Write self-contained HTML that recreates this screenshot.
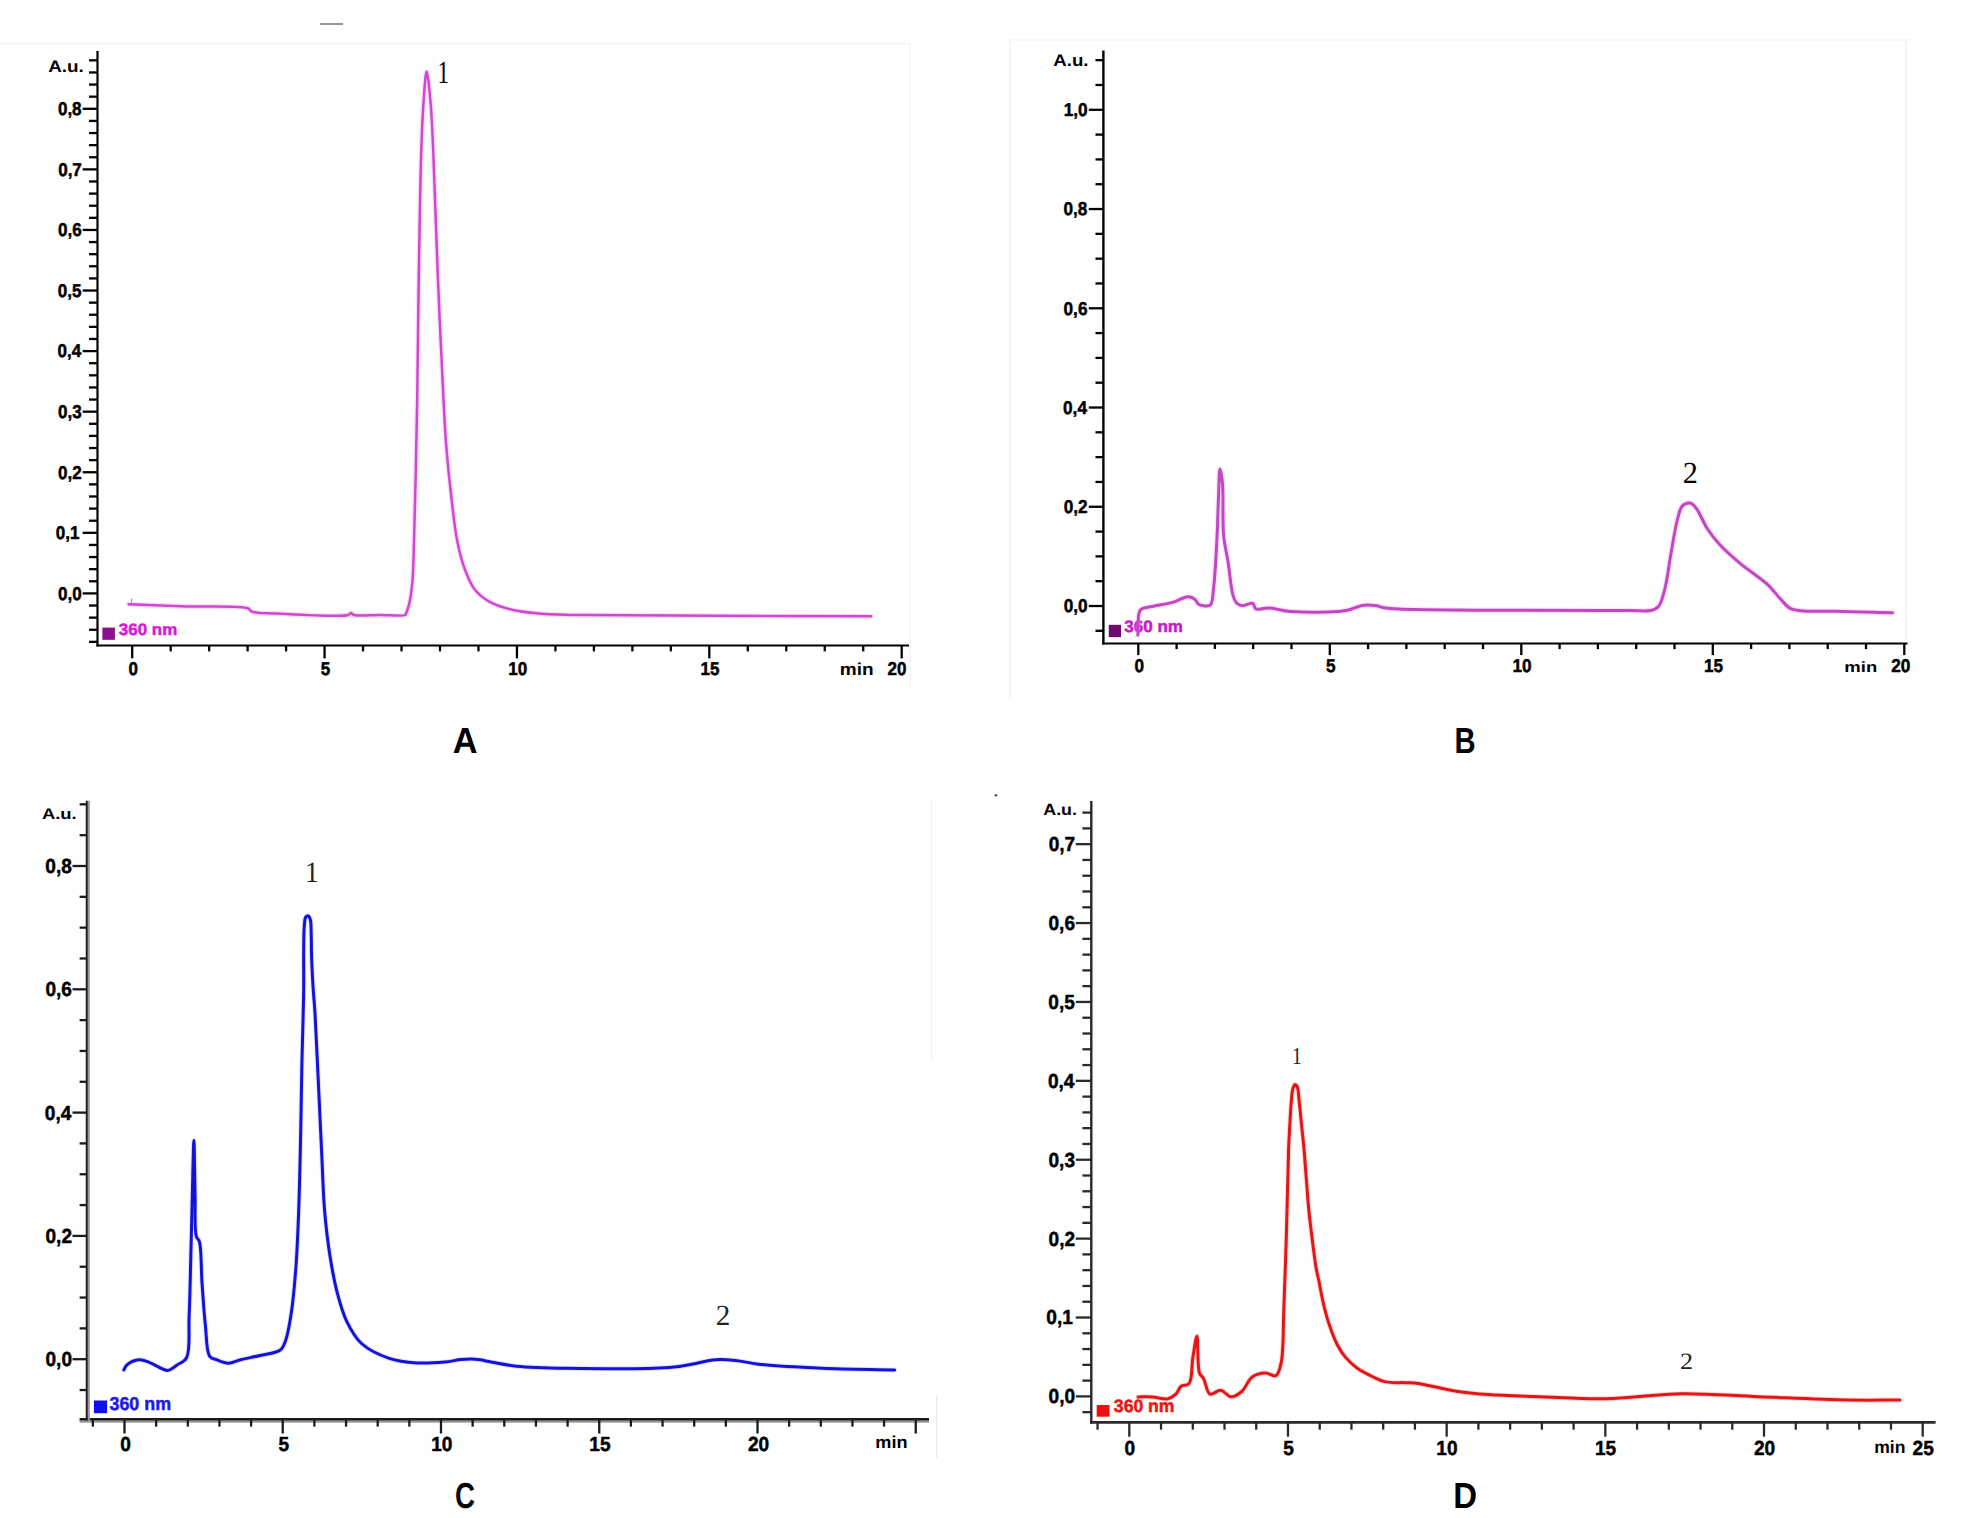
<!DOCTYPE html>
<html><head><meta charset="utf-8"><style>
html,body{margin:0;padding:0;background:#fff;width:1963px;height:1518px;overflow:hidden}
svg{display:block}
text{text-rendering:geometricPrecision}
</style></head><body>
<svg width="1963" height="1518" viewBox="0 0 1963 1518">
<rect width="1963" height="1518" fill="#fff"/>

<line x1="320" y1="24" x2="343" y2="24" stroke="#7a7a7a" stroke-width="1.6" />
<line x1="0" y1="43.5" x2="910" y2="43.5" stroke="#f3f3f3" stroke-width="1.5" />
<line x1="910" y1="43.5" x2="910" y2="690" stroke="#f5f5f5" stroke-width="1.5" />
<line x1="1010" y1="40" x2="1010" y2="700" stroke="#f3f3f3" stroke-width="1.5" />
<line x1="1010" y1="40" x2="1910" y2="40" stroke="#f5f5f5" stroke-width="1.5" />
<line x1="1906" y1="40" x2="1906" y2="640" stroke="#f2f2f2" stroke-width="1.5" />
<line x1="936.6" y1="1395" x2="936.6" y2="1458" stroke="#e8e8e8" stroke-width="1.2" />
<line x1="931.5" y1="800" x2="931.5" y2="1060" stroke="#f2f2f2" stroke-width="1.2" />
<circle cx="995.9" cy="795.2" r="1.3" fill="#555"/>
<line x1="131.6" y1="598.5" x2="131.6" y2="604" stroke="#e070e0" stroke-width="1.2" />
<line x1="97.5" y1="51" x2="97.5" y2="646.4" stroke="#000" stroke-width="2.2" />
<line x1="96.4" y1="645.4" x2="909" y2="645.4" stroke="#000" stroke-width="2" />
<line x1="89" y1="641.86" x2="97.5" y2="641.86" stroke="#000" stroke-width="2.3" />
<line x1="89" y1="629.75" x2="97.5" y2="629.75" stroke="#000" stroke-width="2.3" />
<line x1="89" y1="617.63" x2="97.5" y2="617.63" stroke="#000" stroke-width="2.3" />
<line x1="89" y1="605.51" x2="97.5" y2="605.51" stroke="#000" stroke-width="2.3" />
<line x1="82.7" y1="593.4" x2="97.5" y2="593.4" stroke="#000" stroke-width="2.3" />
<text transform="translate(58.08,599.76) scale(0.9200,1)" x="0" y="0" font-family='"Liberation Sans", sans-serif' font-size="18.500" font-weight="bold" fill="#000" stroke="#000" stroke-width="0.49" stroke-linejoin="round">0,0</text>
<line x1="89" y1="581.28" x2="97.5" y2="581.28" stroke="#000" stroke-width="2.3" />
<line x1="89" y1="569.17" x2="97.5" y2="569.17" stroke="#000" stroke-width="2.3" />
<line x1="89" y1="557.05" x2="97.5" y2="557.05" stroke="#000" stroke-width="2.3" />
<line x1="89" y1="544.94" x2="97.5" y2="544.94" stroke="#000" stroke-width="2.3" />
<line x1="82.7" y1="532.82" x2="97.5" y2="532.82" stroke="#000" stroke-width="2.3" />
<text transform="translate(55.87,539.18) scale(0.9200,1)" x="0" y="0" font-family='"Liberation Sans", sans-serif' font-size="18.500" font-weight="bold" fill="#000" stroke="#000" stroke-width="0.49" stroke-linejoin="round">0,1</text>
<line x1="89" y1="520.71" x2="97.5" y2="520.71" stroke="#000" stroke-width="2.3" />
<line x1="89" y1="508.59" x2="97.5" y2="508.59" stroke="#000" stroke-width="2.3" />
<line x1="89" y1="496.48" x2="97.5" y2="496.48" stroke="#000" stroke-width="2.3" />
<line x1="89" y1="484.36" x2="97.5" y2="484.36" stroke="#000" stroke-width="2.3" />
<line x1="82.7" y1="472.25" x2="97.5" y2="472.25" stroke="#000" stroke-width="2.3" />
<text transform="translate(58.08,478.61) scale(0.9200,1)" x="0" y="0" font-family='"Liberation Sans", sans-serif' font-size="18.500" font-weight="bold" fill="#000" stroke="#000" stroke-width="0.49" stroke-linejoin="round">0,2</text>
<line x1="89" y1="460.13" x2="97.5" y2="460.13" stroke="#000" stroke-width="2.3" />
<line x1="89" y1="448.02" x2="97.5" y2="448.02" stroke="#000" stroke-width="2.3" />
<line x1="89" y1="435.9" x2="97.5" y2="435.9" stroke="#000" stroke-width="2.3" />
<line x1="89" y1="423.79" x2="97.5" y2="423.79" stroke="#000" stroke-width="2.3" />
<line x1="82.7" y1="411.67" x2="97.5" y2="411.67" stroke="#000" stroke-width="2.3" />
<text transform="translate(58,418.03) scale(0.9200,1)" x="0" y="0" font-family='"Liberation Sans", sans-serif' font-size="18.500" font-weight="bold" fill="#000" stroke="#000" stroke-width="0.49" stroke-linejoin="round">0,3</text>
<line x1="89" y1="399.56" x2="97.5" y2="399.56" stroke="#000" stroke-width="2.3" />
<line x1="89" y1="387.44" x2="97.5" y2="387.44" stroke="#000" stroke-width="2.3" />
<line x1="89" y1="375.33" x2="97.5" y2="375.33" stroke="#000" stroke-width="2.3" />
<line x1="89" y1="363.21" x2="97.5" y2="363.21" stroke="#000" stroke-width="2.3" />
<line x1="82.7" y1="351.1" x2="97.5" y2="351.1" stroke="#000" stroke-width="2.3" />
<text transform="translate(57.48,357.46) scale(0.9200,1)" x="0" y="0" font-family='"Liberation Sans", sans-serif' font-size="18.500" font-weight="bold" fill="#000" stroke="#000" stroke-width="0.49" stroke-linejoin="round">0,4</text>
<line x1="89" y1="338.98" x2="97.5" y2="338.98" stroke="#000" stroke-width="2.3" />
<line x1="89" y1="326.87" x2="97.5" y2="326.87" stroke="#000" stroke-width="2.3" />
<line x1="89" y1="314.75" x2="97.5" y2="314.75" stroke="#000" stroke-width="2.3" />
<line x1="89" y1="302.64" x2="97.5" y2="302.64" stroke="#000" stroke-width="2.3" />
<line x1="82.7" y1="290.52" x2="97.5" y2="290.52" stroke="#000" stroke-width="2.3" />
<text transform="translate(57.87,296.88) scale(0.9200,1)" x="0" y="0" font-family='"Liberation Sans", sans-serif' font-size="18.500" font-weight="bold" fill="#000" stroke="#000" stroke-width="0.49" stroke-linejoin="round">0,5</text>
<line x1="89" y1="278.41" x2="97.5" y2="278.41" stroke="#000" stroke-width="2.3" />
<line x1="89" y1="266.29" x2="97.5" y2="266.29" stroke="#000" stroke-width="2.3" />
<line x1="89" y1="254.18" x2="97.5" y2="254.18" stroke="#000" stroke-width="2.3" />
<line x1="89" y1="242.06" x2="97.5" y2="242.06" stroke="#000" stroke-width="2.3" />
<line x1="82.7" y1="229.95" x2="97.5" y2="229.95" stroke="#000" stroke-width="2.3" />
<text transform="translate(58,236.31) scale(0.9200,1)" x="0" y="0" font-family='"Liberation Sans", sans-serif' font-size="18.500" font-weight="bold" fill="#000" stroke="#000" stroke-width="0.49" stroke-linejoin="round">0,6</text>
<line x1="89" y1="217.83" x2="97.5" y2="217.83" stroke="#000" stroke-width="2.3" />
<line x1="89" y1="205.72" x2="97.5" y2="205.72" stroke="#000" stroke-width="2.3" />
<line x1="89" y1="193.6" x2="97.5" y2="193.6" stroke="#000" stroke-width="2.3" />
<line x1="89" y1="181.49" x2="97.5" y2="181.49" stroke="#000" stroke-width="2.3" />
<line x1="82.7" y1="169.38" x2="97.5" y2="169.38" stroke="#000" stroke-width="2.3" />
<text transform="translate(58.17,175.73) scale(0.9200,1)" x="0" y="0" font-family='"Liberation Sans", sans-serif' font-size="18.500" font-weight="bold" fill="#000" stroke="#000" stroke-width="0.49" stroke-linejoin="round">0,7</text>
<line x1="89" y1="157.26" x2="97.5" y2="157.26" stroke="#000" stroke-width="2.3" />
<line x1="89" y1="145.14" x2="97.5" y2="145.14" stroke="#000" stroke-width="2.3" />
<line x1="89" y1="133.03" x2="97.5" y2="133.03" stroke="#000" stroke-width="2.3" />
<line x1="89" y1="120.91" x2="97.5" y2="120.91" stroke="#000" stroke-width="2.3" />
<line x1="82.7" y1="108.8" x2="97.5" y2="108.8" stroke="#000" stroke-width="2.3" />
<text transform="translate(57.91,115.16) scale(0.9200,1)" x="0" y="0" font-family='"Liberation Sans", sans-serif' font-size="18.500" font-weight="bold" fill="#000" stroke="#000" stroke-width="0.49" stroke-linejoin="round">0,8</text>
<line x1="89" y1="96.68" x2="97.5" y2="96.68" stroke="#000" stroke-width="2.3" />
<line x1="89" y1="84.57" x2="97.5" y2="84.57" stroke="#000" stroke-width="2.3" />
<line x1="89" y1="72.46" x2="97.5" y2="72.46" stroke="#000" stroke-width="2.3" />
<line x1="89" y1="60.34" x2="97.5" y2="60.34" stroke="#000" stroke-width="2.3" />
<line x1="132.2" y1="645.4" x2="132.2" y2="658.4" stroke="#000" stroke-width="2.3" />
<text transform="translate(128.48,675.4) scale(0.9200,1)" x="0" y="0" font-family='"Liberation Sans", sans-serif' font-size="18.500" font-weight="bold" fill="#000" stroke="#000" stroke-width="0.49" stroke-linejoin="round">0</text>
<line x1="170.67" y1="645.4" x2="170.67" y2="651.4" stroke="#000" stroke-width="2.3" />
<line x1="209.15" y1="645.4" x2="209.15" y2="651.4" stroke="#000" stroke-width="2.3" />
<line x1="247.62" y1="645.4" x2="247.62" y2="651.4" stroke="#000" stroke-width="2.3" />
<line x1="286.1" y1="645.4" x2="286.1" y2="651.4" stroke="#000" stroke-width="2.3" />
<line x1="324.57" y1="645.4" x2="324.57" y2="658.4" stroke="#000" stroke-width="2.3" />
<text transform="translate(320.81,675.4) scale(0.9200,1)" x="0" y="0" font-family='"Liberation Sans", sans-serif' font-size="18.500" font-weight="bold" fill="#000" stroke="#000" stroke-width="0.49" stroke-linejoin="round">5</text>
<line x1="363.05" y1="645.4" x2="363.05" y2="651.4" stroke="#000" stroke-width="2.3" />
<line x1="401.52" y1="645.4" x2="401.52" y2="651.4" stroke="#000" stroke-width="2.3" />
<line x1="440" y1="645.4" x2="440" y2="651.4" stroke="#000" stroke-width="2.3" />
<line x1="478.48" y1="645.4" x2="478.48" y2="651.4" stroke="#000" stroke-width="2.3" />
<line x1="516.95" y1="645.4" x2="516.95" y2="658.4" stroke="#000" stroke-width="2.3" />
<text transform="translate(508.29,675.4) scale(0.9200,1)" x="0" y="0" font-family='"Liberation Sans", sans-serif' font-size="18.500" font-weight="bold" fill="#000" stroke="#000" stroke-width="0.49" stroke-linejoin="round">10</text>
<line x1="555.42" y1="645.4" x2="555.42" y2="651.4" stroke="#000" stroke-width="2.3" />
<line x1="593.9" y1="645.4" x2="593.9" y2="651.4" stroke="#000" stroke-width="2.3" />
<line x1="632.38" y1="645.4" x2="632.38" y2="651.4" stroke="#000" stroke-width="2.3" />
<line x1="670.85" y1="645.4" x2="670.85" y2="651.4" stroke="#000" stroke-width="2.3" />
<line x1="709.33" y1="645.4" x2="709.33" y2="658.4" stroke="#000" stroke-width="2.3" />
<text transform="translate(700.56,675.4) scale(0.9200,1)" x="0" y="0" font-family='"Liberation Sans", sans-serif' font-size="18.500" font-weight="bold" fill="#000" stroke="#000" stroke-width="0.49" stroke-linejoin="round">15</text>
<line x1="747.8" y1="645.4" x2="747.8" y2="651.4" stroke="#000" stroke-width="2.3" />
<line x1="786.28" y1="645.4" x2="786.28" y2="651.4" stroke="#000" stroke-width="2.3" />
<line x1="824.75" y1="645.4" x2="824.75" y2="651.4" stroke="#000" stroke-width="2.3" />
<line x1="863.22" y1="645.4" x2="863.22" y2="651.4" stroke="#000" stroke-width="2.3" />
<line x1="901.7" y1="645.4" x2="901.7" y2="658.4" stroke="#000" stroke-width="2.3" />
<text transform="translate(887.6,675.4) scale(0.9200,1)" x="0" y="0" font-family='"Liberation Sans", sans-serif' font-size="18.500" font-weight="bold" fill="#000" stroke="#000" stroke-width="0.49" stroke-linejoin="round">20</text>
<text transform="translate(48.13,71.93) scale(1.1356,1)" x="0" y="0" font-family='"Liberation Sans", sans-serif' font-size="16.631" font-weight="bold" fill="#000">A.u.</text>
<text transform="translate(839.86,674.5) scale(1.1021,1)" x="0" y="0" font-family='"Liberation Sans", sans-serif' font-size="17.241" font-weight="bold" fill="#000">min</text>
<rect x="102.4" y="627.6" width="12.5" height="12.2" fill="#8b108b"/>
<text transform="translate(118.87,635.24) scale(1.0287,1)" x="0" y="0" font-family='"Liberation Sans", sans-serif' font-size="16.479" font-weight="bold" fill="#d818d8" stroke="#d818d8" stroke-width="0.49" stroke-linejoin="round">360 nm</text>
<path d="M128.6,604.3 C148.07,605 167.29,605.71 187,606.4 C207.21,607.11 241.33,605.35 248.4,608.5 C250.21,609.31 249.57,610.63 251.2,611.4 C255.33,613.35 266.25,612.95 277,613.5 C294.83,614.41 340.44,617.4 348.2,615 C349.91,614.47 350.05,613.02 351,613 C351.98,612.98 352.4,614.51 354,615 C358.31,616.3 371.39,615 380,615 C388.49,615 402.74,616.58 405.3,615 C405.98,614.58 405.78,614.17 406.1,613.4 C406.85,611.59 408.3,607.84 409.2,604 C410.56,598.21 411.62,590.28 412.4,581.8 C413.44,570.54 413.52,557.01 414,542.3 C414.61,523.68 415.09,501.27 415.6,479 C416.17,454.12 416.72,429.34 417.2,400 C417.81,363.09 418.12,316.67 418.8,275 C419.48,233.33 420.24,181.67 421.3,150 C421.95,130.57 422.48,117.08 423.5,103 C424.34,91.47 425.42,71.62 426.6,71.6 C427.78,71.58 429.55,91.46 430.6,103 C431.88,117.07 432.31,130.57 433.2,150 C434.66,181.67 436.08,233.34 437.8,275 C439.52,316.67 441.8,368.25 443.5,400 C444.54,419.56 445.14,431.6 446.4,447.4 C447.67,463.24 449.25,479.09 451.1,494.9 C452.95,510.72 454.69,528.58 457.5,542.3 C459.71,553.09 462.16,562.41 465.4,570.8 C468.14,577.89 470.61,584.4 474.9,589.7 C479.09,594.89 484.56,599.05 490.7,602.4 C497.52,606.12 506.41,608.46 514.4,610.3 C522.21,612.1 529.06,612.64 538.1,613.4 C550.07,614.41 559.74,614.57 580,615 C633.38,616.13 774.13,615.8 871.2,616.2" fill="none" stroke="#ff88ff" stroke-width="5" stroke-opacity="0.3" stroke-linejoin="round" stroke-linecap="round"/>
<path d="M128.6,604.3 C148.07,605 167.29,605.71 187,606.4 C207.21,607.11 241.33,605.35 248.4,608.5 C250.21,609.31 249.57,610.63 251.2,611.4 C255.33,613.35 266.25,612.95 277,613.5 C294.83,614.41 340.44,617.4 348.2,615 C349.91,614.47 350.05,613.02 351,613 C351.98,612.98 352.4,614.51 354,615 C358.31,616.3 371.39,615 380,615 C388.49,615 402.74,616.58 405.3,615 C405.98,614.58 405.78,614.17 406.1,613.4 C406.85,611.59 408.3,607.84 409.2,604 C410.56,598.21 411.62,590.28 412.4,581.8 C413.44,570.54 413.52,557.01 414,542.3 C414.61,523.68 415.09,501.27 415.6,479 C416.17,454.12 416.72,429.34 417.2,400 C417.81,363.09 418.12,316.67 418.8,275 C419.48,233.33 420.24,181.67 421.3,150 C421.95,130.57 422.48,117.08 423.5,103 C424.34,91.47 425.42,71.62 426.6,71.6 C427.78,71.58 429.55,91.46 430.6,103 C431.88,117.07 432.31,130.57 433.2,150 C434.66,181.67 436.08,233.34 437.8,275 C439.52,316.67 441.8,368.25 443.5,400 C444.54,419.56 445.14,431.6 446.4,447.4 C447.67,463.24 449.25,479.09 451.1,494.9 C452.95,510.72 454.69,528.58 457.5,542.3 C459.71,553.09 462.16,562.41 465.4,570.8 C468.14,577.89 470.61,584.4 474.9,589.7 C479.09,594.89 484.56,599.05 490.7,602.4 C497.52,606.12 506.41,608.46 514.4,610.3 C522.21,612.1 529.06,612.64 538.1,613.4 C550.07,614.41 559.74,614.57 580,615 C633.38,616.13 774.13,615.8 871.2,616.2" fill="none" stroke="#d048d0" stroke-width="2.5" stroke-linejoin="round" stroke-linecap="round"/>
<text transform="translate(437.59,82.5) scale(0.7154,1)" x="0" y="0" font-family='"Liberation Serif", serif' font-size="32.121" font-weight="normal" fill="#000">1</text>
<text transform="translate(452.84,753.3) scale(0.9484,1)" x="0" y="0" font-family='"Liberation Sans", sans-serif' font-size="36.218" font-weight="bold" fill="#000">A</text>
<line x1="1103.4" y1="50.5" x2="1103.4" y2="644.6" stroke="#000" stroke-width="2.4" />
<line x1="1102.2" y1="643.5" x2="1907.5" y2="643.5" stroke="#000" stroke-width="2.2" />
<line x1="1095.5" y1="630.81" x2="1103.4" y2="630.81" stroke="#000" stroke-width="2.3" />
<line x1="1088.8" y1="606" x2="1103.4" y2="606" stroke="#000" stroke-width="2.3" />
<text transform="translate(1063.63,612.36) scale(0.9300,1)" x="0" y="0" font-family='"Liberation Sans", sans-serif' font-size="18.500" font-weight="bold" fill="#000" stroke="#000" stroke-width="0.48" stroke-linejoin="round">0,0</text>
<line x1="1095.5" y1="581.19" x2="1103.4" y2="581.19" stroke="#000" stroke-width="2.3" />
<line x1="1095.5" y1="556.38" x2="1103.4" y2="556.38" stroke="#000" stroke-width="2.3" />
<line x1="1095.5" y1="531.57" x2="1103.4" y2="531.57" stroke="#000" stroke-width="2.3" />
<line x1="1088.8" y1="506.76" x2="1103.4" y2="506.76" stroke="#000" stroke-width="2.3" />
<text transform="translate(1063.63,513.12) scale(0.9300,1)" x="0" y="0" font-family='"Liberation Sans", sans-serif' font-size="18.500" font-weight="bold" fill="#000" stroke="#000" stroke-width="0.48" stroke-linejoin="round">0,2</text>
<line x1="1095.5" y1="481.95" x2="1103.4" y2="481.95" stroke="#000" stroke-width="2.3" />
<line x1="1095.5" y1="457.14" x2="1103.4" y2="457.14" stroke="#000" stroke-width="2.3" />
<line x1="1095.5" y1="432.33" x2="1103.4" y2="432.33" stroke="#000" stroke-width="2.3" />
<line x1="1088.8" y1="407.52" x2="1103.4" y2="407.52" stroke="#000" stroke-width="2.3" />
<text transform="translate(1063.03,413.88) scale(0.9300,1)" x="0" y="0" font-family='"Liberation Sans", sans-serif' font-size="18.500" font-weight="bold" fill="#000" stroke="#000" stroke-width="0.48" stroke-linejoin="round">0,4</text>
<line x1="1095.5" y1="382.71" x2="1103.4" y2="382.71" stroke="#000" stroke-width="2.3" />
<line x1="1095.5" y1="357.9" x2="1103.4" y2="357.9" stroke="#000" stroke-width="2.3" />
<line x1="1095.5" y1="333.09" x2="1103.4" y2="333.09" stroke="#000" stroke-width="2.3" />
<line x1="1088.8" y1="308.28" x2="1103.4" y2="308.28" stroke="#000" stroke-width="2.3" />
<text transform="translate(1063.54,314.64) scale(0.9300,1)" x="0" y="0" font-family='"Liberation Sans", sans-serif' font-size="18.500" font-weight="bold" fill="#000" stroke="#000" stroke-width="0.48" stroke-linejoin="round">0,6</text>
<line x1="1095.5" y1="283.47" x2="1103.4" y2="283.47" stroke="#000" stroke-width="2.3" />
<line x1="1095.5" y1="258.66" x2="1103.4" y2="258.66" stroke="#000" stroke-width="2.3" />
<line x1="1095.5" y1="233.85" x2="1103.4" y2="233.85" stroke="#000" stroke-width="2.3" />
<line x1="1088.8" y1="209.04" x2="1103.4" y2="209.04" stroke="#000" stroke-width="2.3" />
<text transform="translate(1063.46,215.4) scale(0.9300,1)" x="0" y="0" font-family='"Liberation Sans", sans-serif' font-size="18.500" font-weight="bold" fill="#000" stroke="#000" stroke-width="0.48" stroke-linejoin="round">0,8</text>
<line x1="1095.5" y1="184.23" x2="1103.4" y2="184.23" stroke="#000" stroke-width="2.3" />
<line x1="1095.5" y1="159.42" x2="1103.4" y2="159.42" stroke="#000" stroke-width="2.3" />
<line x1="1095.5" y1="134.61" x2="1103.4" y2="134.61" stroke="#000" stroke-width="2.3" />
<line x1="1088.8" y1="109.8" x2="1103.4" y2="109.8" stroke="#000" stroke-width="2.3" />
<text transform="translate(1063.63,116.16) scale(0.9300,1)" x="0" y="0" font-family='"Liberation Sans", sans-serif' font-size="18.500" font-weight="bold" fill="#000" stroke="#000" stroke-width="0.48" stroke-linejoin="round">1,0</text>
<line x1="1095.5" y1="84.99" x2="1103.4" y2="84.99" stroke="#000" stroke-width="2.3" />
<line x1="1095.5" y1="60.18" x2="1103.4" y2="60.18" stroke="#000" stroke-width="2.3" />
<line x1="1138.3" y1="643.5" x2="1138.3" y2="655.1" stroke="#000" stroke-width="2.3" />
<text transform="translate(1134.53,671.9) scale(0.9300,1)" x="0" y="0" font-family='"Liberation Sans", sans-serif' font-size="18.500" font-weight="bold" fill="#000" stroke="#000" stroke-width="0.48" stroke-linejoin="round">0</text>
<line x1="1176.6" y1="643.5" x2="1176.6" y2="649.1" stroke="#000" stroke-width="2.3" />
<line x1="1214.9" y1="643.5" x2="1214.9" y2="649.1" stroke="#000" stroke-width="2.3" />
<line x1="1253.2" y1="643.5" x2="1253.2" y2="649.1" stroke="#000" stroke-width="2.3" />
<line x1="1291.5" y1="643.5" x2="1291.5" y2="649.1" stroke="#000" stroke-width="2.3" />
<line x1="1329.8" y1="643.5" x2="1329.8" y2="655.1" stroke="#000" stroke-width="2.3" />
<text transform="translate(1325.98,671.9) scale(0.9300,1)" x="0" y="0" font-family='"Liberation Sans", sans-serif' font-size="18.500" font-weight="bold" fill="#000" stroke="#000" stroke-width="0.48" stroke-linejoin="round">5</text>
<line x1="1368.1" y1="643.5" x2="1368.1" y2="649.1" stroke="#000" stroke-width="2.3" />
<line x1="1406.4" y1="643.5" x2="1406.4" y2="649.1" stroke="#000" stroke-width="2.3" />
<line x1="1444.7" y1="643.5" x2="1444.7" y2="649.1" stroke="#000" stroke-width="2.3" />
<line x1="1483" y1="643.5" x2="1483" y2="649.1" stroke="#000" stroke-width="2.3" />
<line x1="1521.3" y1="643.5" x2="1521.3" y2="655.1" stroke="#000" stroke-width="2.3" />
<text transform="translate(1512.54,671.9) scale(0.9300,1)" x="0" y="0" font-family='"Liberation Sans", sans-serif' font-size="18.500" font-weight="bold" fill="#000" stroke="#000" stroke-width="0.48" stroke-linejoin="round">10</text>
<line x1="1559.6" y1="643.5" x2="1559.6" y2="649.1" stroke="#000" stroke-width="2.3" />
<line x1="1597.9" y1="643.5" x2="1597.9" y2="649.1" stroke="#000" stroke-width="2.3" />
<line x1="1636.2" y1="643.5" x2="1636.2" y2="649.1" stroke="#000" stroke-width="2.3" />
<line x1="1674.5" y1="643.5" x2="1674.5" y2="649.1" stroke="#000" stroke-width="2.3" />
<line x1="1712.8" y1="643.5" x2="1712.8" y2="655.1" stroke="#000" stroke-width="2.3" />
<text transform="translate(1703.93,671.9) scale(0.9300,1)" x="0" y="0" font-family='"Liberation Sans", sans-serif' font-size="18.500" font-weight="bold" fill="#000" stroke="#000" stroke-width="0.48" stroke-linejoin="round">15</text>
<line x1="1751.1" y1="643.5" x2="1751.1" y2="649.1" stroke="#000" stroke-width="2.3" />
<line x1="1789.4" y1="643.5" x2="1789.4" y2="649.1" stroke="#000" stroke-width="2.3" />
<line x1="1827.7" y1="643.5" x2="1827.7" y2="649.1" stroke="#000" stroke-width="2.3" />
<line x1="1866" y1="643.5" x2="1866" y2="649.1" stroke="#000" stroke-width="2.3" />
<line x1="1904.3" y1="643.5" x2="1904.3" y2="655.1" stroke="#000" stroke-width="2.3" />
<text transform="translate(1891.19,671.9) scale(0.9300,1)" x="0" y="0" font-family='"Liberation Sans", sans-serif' font-size="18.500" font-weight="bold" fill="#000" stroke="#000" stroke-width="0.48" stroke-linejoin="round">20</text>
<text transform="translate(1053.23,66.23) scale(1.1065,1)" x="0" y="0" font-family='"Liberation Sans", sans-serif' font-size="16.918" font-weight="bold" fill="#000">A.u.</text>
<text transform="translate(1844.3,671.6) scale(1.2431,1)" x="0" y="0" font-family='"Liberation Sans", sans-serif' font-size="14.897" font-weight="bold" fill="#000">min</text>
<rect x="1108.8" y="624.8" width="12.2" height="12.3" fill="#700a70"/>
<text transform="translate(1124.37,632.04) scale(1.0218,1)" x="0" y="0" font-family='"Liberation Sans", sans-serif' font-size="16.620" font-weight="bold" fill="#c818c8" stroke="#c818c8" stroke-width="0.49" stroke-linejoin="round">360 nm</text>
<path d="M1137.8,635 C1138.67,626.67 1136.76,614.41 1140.4,610 C1142.93,606.94 1147.56,607.61 1152,606.5 C1157.84,605.04 1166.93,604.07 1172.5,602.4 C1176.52,601.19 1179.61,599.26 1182.6,598.3 C1184.89,597.56 1186.77,596.63 1188.8,596.8 C1190.87,596.97 1193.2,598.11 1194.9,599.4 C1196.59,600.68 1196.99,603.47 1199,604.5 C1201.63,605.85 1207.74,607 1210.2,605.1 C1213.18,602.79 1212.56,595.8 1213.5,588.9 C1215.12,576.96 1216.04,555.65 1216.9,539.6 C1217.72,524.32 1218.01,507.68 1218.6,494.8 C1219.05,485.02 1219.17,469.05 1220,469 C1220.63,468.96 1221.89,477.22 1222.5,483.6 C1223.64,495.5 1222.25,520.74 1223.6,535.1 C1224.58,545.55 1226.6,552.53 1228.1,562 C1229.77,572.57 1230.84,588.43 1233.1,595.6 C1234.25,599.23 1235.19,601.72 1237,603.4 C1238.51,604.8 1240.43,605.52 1242.6,605.7 C1245.44,605.94 1250.44,602.42 1252.7,603.4 C1254.49,604.17 1254.11,608.03 1256,609 C1258.62,610.35 1263.66,607.74 1268.4,607.9 C1274.82,608.12 1281.78,610.85 1291,611.5 C1305.29,612.5 1333.18,612.58 1346,610.5 C1353.14,609.34 1356.99,606.13 1362.3,605.4 C1367.14,604.73 1372.78,605.27 1376.5,605.8 C1378.98,606.16 1380.05,606.94 1382.6,607.4 C1386.72,608.14 1390.35,608.55 1399,609 C1431.38,610.68 1594.59,610.39 1630,610.5 C1640.58,610.53 1645.45,611.73 1650.6,610.5 C1653.97,609.69 1656.35,608.93 1658.5,606.5 C1661.61,602.99 1662.95,596.05 1664.8,589.1 C1667.41,579.29 1668.95,564.62 1671.1,552.8 C1673.16,541.48 1675.08,528.15 1677.4,519.6 C1678.91,514.03 1679.57,508.82 1682.2,506.1 C1684.22,504.01 1687.73,502.59 1690.1,503 C1692.46,503.41 1694.26,505.82 1696.4,508.5 C1699.98,512.97 1703.38,522.76 1707.5,529 C1711.34,534.82 1715.14,539.57 1720.1,544.9 C1725.92,551.16 1733.23,557.53 1740.7,563.8 C1748.91,570.7 1760.45,577.85 1767.5,584.4 C1772.79,589.31 1776.01,594.33 1780.2,598.6 C1783.93,602.4 1785.79,606.56 1791.3,608.9 C1800.73,612.9 1819.83,610.67 1835.5,611.3 C1853.29,612.02 1873.5,612.3 1892.5,612.8" fill="none" stroke="#ff99ff" stroke-width="5.5" stroke-opacity="0.3" stroke-linejoin="round" stroke-linecap="round"/>
<path d="M1137.8,635 C1138.67,626.67 1136.76,614.41 1140.4,610 C1142.93,606.94 1147.56,607.61 1152,606.5 C1157.84,605.04 1166.93,604.07 1172.5,602.4 C1176.52,601.19 1179.61,599.26 1182.6,598.3 C1184.89,597.56 1186.77,596.63 1188.8,596.8 C1190.87,596.97 1193.2,598.11 1194.9,599.4 C1196.59,600.68 1196.99,603.47 1199,604.5 C1201.63,605.85 1207.74,607 1210.2,605.1 C1213.18,602.79 1212.56,595.8 1213.5,588.9 C1215.12,576.96 1216.04,555.65 1216.9,539.6 C1217.72,524.32 1218.01,507.68 1218.6,494.8 C1219.05,485.02 1219.17,469.05 1220,469 C1220.63,468.96 1221.89,477.22 1222.5,483.6 C1223.64,495.5 1222.25,520.74 1223.6,535.1 C1224.58,545.55 1226.6,552.53 1228.1,562 C1229.77,572.57 1230.84,588.43 1233.1,595.6 C1234.25,599.23 1235.19,601.72 1237,603.4 C1238.51,604.8 1240.43,605.52 1242.6,605.7 C1245.44,605.94 1250.44,602.42 1252.7,603.4 C1254.49,604.17 1254.11,608.03 1256,609 C1258.62,610.35 1263.66,607.74 1268.4,607.9 C1274.82,608.12 1281.78,610.85 1291,611.5 C1305.29,612.5 1333.18,612.58 1346,610.5 C1353.14,609.34 1356.99,606.13 1362.3,605.4 C1367.14,604.73 1372.78,605.27 1376.5,605.8 C1378.98,606.16 1380.05,606.94 1382.6,607.4 C1386.72,608.14 1390.35,608.55 1399,609 C1431.38,610.68 1594.59,610.39 1630,610.5 C1640.58,610.53 1645.45,611.73 1650.6,610.5 C1653.97,609.69 1656.35,608.93 1658.5,606.5 C1661.61,602.99 1662.95,596.05 1664.8,589.1 C1667.41,579.29 1668.95,564.62 1671.1,552.8 C1673.16,541.48 1675.08,528.15 1677.4,519.6 C1678.91,514.03 1679.57,508.82 1682.2,506.1 C1684.22,504.01 1687.73,502.59 1690.1,503 C1692.46,503.41 1694.26,505.82 1696.4,508.5 C1699.98,512.97 1703.38,522.76 1707.5,529 C1711.34,534.82 1715.14,539.57 1720.1,544.9 C1725.92,551.16 1733.23,557.53 1740.7,563.8 C1748.91,570.7 1760.45,577.85 1767.5,584.4 C1772.79,589.31 1776.01,594.33 1780.2,598.6 C1783.93,602.4 1785.79,606.56 1791.3,608.9 C1800.73,612.9 1819.83,610.67 1835.5,611.3 C1853.29,612.02 1873.5,612.3 1892.5,612.8" fill="none" stroke="#c048c0" stroke-width="3" stroke-linejoin="round" stroke-linecap="round"/>
<text transform="translate(1682.71,483.3) scale(0.9941,1)" x="0" y="0" font-family='"Liberation Serif", serif' font-size="30.491" font-weight="normal" fill="#000">2</text>
<text transform="translate(1454.5,753.3) scale(0.8069,1)" x="0" y="0" font-family='"Liberation Sans", sans-serif' font-size="36.218" font-weight="bold" fill="#000">B</text>
<line x1="86.8" y1="800.7" x2="86.8" y2="1420.8" stroke="#1a1a1a" stroke-width="2.1" />
<line x1="79.6" y1="1419.4" x2="929" y2="1419.4" stroke="#1a1a1a" stroke-width="2.8" />
<line x1="88.85" y1="800.7" x2="88.85" y2="1420.8" stroke="#9a9a9a" stroke-width="2" />
<line x1="79.6" y1="1421.8" x2="929" y2="1421.8" stroke="#9a9a9a" stroke-width="2" />
<line x1="79.6" y1="1390.03" x2="86.8" y2="1390.03" stroke="#1a1a1a" stroke-width="2.3" />
<line x1="72.5" y1="1359.2" x2="86.8" y2="1359.2" stroke="#1a1a1a" stroke-width="2.3" />
<text transform="translate(45.49,1366.18) scale(0.9400,1)" x="0" y="0" font-family='"Liberation Sans", sans-serif' font-size="20.300" font-weight="bold" fill="#000" stroke="#000" stroke-width="0.48" stroke-linejoin="round">0,0</text>
<line x1="79.6" y1="1328.38" x2="86.8" y2="1328.38" stroke="#1a1a1a" stroke-width="2.3" />
<line x1="79.6" y1="1297.55" x2="86.8" y2="1297.55" stroke="#1a1a1a" stroke-width="2.3" />
<line x1="79.6" y1="1266.73" x2="86.8" y2="1266.73" stroke="#1a1a1a" stroke-width="2.3" />
<line x1="72.5" y1="1235.9" x2="86.8" y2="1235.9" stroke="#1a1a1a" stroke-width="2.3" />
<text transform="translate(45.49,1242.88) scale(0.9400,1)" x="0" y="0" font-family='"Liberation Sans", sans-serif' font-size="20.300" font-weight="bold" fill="#000" stroke="#000" stroke-width="0.48" stroke-linejoin="round">0,2</text>
<line x1="79.6" y1="1205.08" x2="86.8" y2="1205.08" stroke="#1a1a1a" stroke-width="2.3" />
<line x1="79.6" y1="1174.25" x2="86.8" y2="1174.25" stroke="#1a1a1a" stroke-width="2.3" />
<line x1="79.6" y1="1143.42" x2="86.8" y2="1143.42" stroke="#1a1a1a" stroke-width="2.3" />
<line x1="72.5" y1="1112.6" x2="86.8" y2="1112.6" stroke="#1a1a1a" stroke-width="2.3" />
<text transform="translate(44.82,1119.58) scale(0.9400,1)" x="0" y="0" font-family='"Liberation Sans", sans-serif' font-size="20.300" font-weight="bold" fill="#000" stroke="#000" stroke-width="0.48" stroke-linejoin="round">0,4</text>
<line x1="79.6" y1="1081.78" x2="86.8" y2="1081.78" stroke="#1a1a1a" stroke-width="2.3" />
<line x1="79.6" y1="1050.95" x2="86.8" y2="1050.95" stroke="#1a1a1a" stroke-width="2.3" />
<line x1="79.6" y1="1020.12" x2="86.8" y2="1020.12" stroke="#1a1a1a" stroke-width="2.3" />
<line x1="72.5" y1="989.3" x2="86.8" y2="989.3" stroke="#1a1a1a" stroke-width="2.3" />
<text transform="translate(45.4,996.28) scale(0.9400,1)" x="0" y="0" font-family='"Liberation Sans", sans-serif' font-size="20.300" font-weight="bold" fill="#000" stroke="#000" stroke-width="0.48" stroke-linejoin="round">0,6</text>
<line x1="79.6" y1="958.48" x2="86.8" y2="958.48" stroke="#1a1a1a" stroke-width="2.3" />
<line x1="79.6" y1="927.65" x2="86.8" y2="927.65" stroke="#1a1a1a" stroke-width="2.3" />
<line x1="79.6" y1="896.83" x2="86.8" y2="896.83" stroke="#1a1a1a" stroke-width="2.3" />
<line x1="72.5" y1="866" x2="86.8" y2="866" stroke="#1a1a1a" stroke-width="2.3" />
<text transform="translate(45.3,872.98) scale(0.9400,1)" x="0" y="0" font-family='"Liberation Sans", sans-serif' font-size="20.300" font-weight="bold" fill="#000" stroke="#000" stroke-width="0.48" stroke-linejoin="round">0,8</text>
<line x1="79.6" y1="835.18" x2="86.8" y2="835.18" stroke="#1a1a1a" stroke-width="2.3" />
<line x1="79.6" y1="804.35" x2="86.8" y2="804.35" stroke="#1a1a1a" stroke-width="2.3" />
<line x1="92.85" y1="1419.4" x2="92.85" y2="1426.6" stroke="#1a1a1a" stroke-width="2.3" />
<line x1="124.5" y1="1419.4" x2="124.5" y2="1433.5" stroke="#1a1a1a" stroke-width="2.3" />
<text transform="translate(120.2,1451.26) scale(0.9400,1)" x="0" y="0" font-family='"Liberation Sans", sans-serif' font-size="20.300" font-weight="bold" fill="#000" stroke="#000" stroke-width="0.48" stroke-linejoin="round">0</text>
<line x1="156.15" y1="1419.4" x2="156.15" y2="1426.6" stroke="#1a1a1a" stroke-width="2.3" />
<line x1="187.8" y1="1419.4" x2="187.8" y2="1426.6" stroke="#1a1a1a" stroke-width="2.3" />
<line x1="219.45" y1="1419.4" x2="219.45" y2="1426.6" stroke="#1a1a1a" stroke-width="2.3" />
<line x1="251.1" y1="1419.4" x2="251.1" y2="1426.6" stroke="#1a1a1a" stroke-width="2.3" />
<line x1="282.75" y1="1419.4" x2="282.75" y2="1433.5" stroke="#1a1a1a" stroke-width="2.3" />
<text transform="translate(278.41,1451.26) scale(0.9400,1)" x="0" y="0" font-family='"Liberation Sans", sans-serif' font-size="20.300" font-weight="bold" fill="#000" stroke="#000" stroke-width="0.48" stroke-linejoin="round">5</text>
<line x1="314.4" y1="1419.4" x2="314.4" y2="1426.6" stroke="#1a1a1a" stroke-width="2.3" />
<line x1="346.05" y1="1419.4" x2="346.05" y2="1426.6" stroke="#1a1a1a" stroke-width="2.3" />
<line x1="377.7" y1="1419.4" x2="377.7" y2="1426.6" stroke="#1a1a1a" stroke-width="2.3" />
<line x1="409.35" y1="1419.4" x2="409.35" y2="1426.6" stroke="#1a1a1a" stroke-width="2.3" />
<line x1="441" y1="1419.4" x2="441" y2="1433.5" stroke="#1a1a1a" stroke-width="2.3" />
<text transform="translate(431.17,1451.26) scale(0.9400,1)" x="0" y="0" font-family='"Liberation Sans", sans-serif' font-size="20.300" font-weight="bold" fill="#000" stroke="#000" stroke-width="0.48" stroke-linejoin="round">10</text>
<line x1="472.65" y1="1419.4" x2="472.65" y2="1426.6" stroke="#1a1a1a" stroke-width="2.3" />
<line x1="504.3" y1="1419.4" x2="504.3" y2="1426.6" stroke="#1a1a1a" stroke-width="2.3" />
<line x1="535.95" y1="1419.4" x2="535.95" y2="1426.6" stroke="#1a1a1a" stroke-width="2.3" />
<line x1="567.6" y1="1419.4" x2="567.6" y2="1426.6" stroke="#1a1a1a" stroke-width="2.3" />
<line x1="599.25" y1="1419.4" x2="599.25" y2="1433.5" stroke="#1a1a1a" stroke-width="2.3" />
<text transform="translate(589.3,1451.26) scale(0.9400,1)" x="0" y="0" font-family='"Liberation Sans", sans-serif' font-size="20.300" font-weight="bold" fill="#000" stroke="#000" stroke-width="0.48" stroke-linejoin="round">15</text>
<line x1="630.9" y1="1419.4" x2="630.9" y2="1426.6" stroke="#1a1a1a" stroke-width="2.3" />
<line x1="662.55" y1="1419.4" x2="662.55" y2="1426.6" stroke="#1a1a1a" stroke-width="2.3" />
<line x1="694.2" y1="1419.4" x2="694.2" y2="1426.6" stroke="#1a1a1a" stroke-width="2.3" />
<line x1="725.85" y1="1419.4" x2="725.85" y2="1426.6" stroke="#1a1a1a" stroke-width="2.3" />
<line x1="757.5" y1="1419.4" x2="757.5" y2="1433.5" stroke="#1a1a1a" stroke-width="2.3" />
<text transform="translate(747.96,1451.26) scale(0.9400,1)" x="0" y="0" font-family='"Liberation Sans", sans-serif' font-size="20.300" font-weight="bold" fill="#000" stroke="#000" stroke-width="0.48" stroke-linejoin="round">20</text>
<line x1="789.15" y1="1419.4" x2="789.15" y2="1426.6" stroke="#1a1a1a" stroke-width="2.3" />
<line x1="820.8" y1="1419.4" x2="820.8" y2="1426.6" stroke="#1a1a1a" stroke-width="2.3" />
<line x1="852.45" y1="1419.4" x2="852.45" y2="1426.6" stroke="#1a1a1a" stroke-width="2.3" />
<line x1="884.1" y1="1419.4" x2="884.1" y2="1426.6" stroke="#1a1a1a" stroke-width="2.3" />
<line x1="915.75" y1="1419.4" x2="915.75" y2="1433.5" stroke="#1a1a1a" stroke-width="2.3" />
<text transform="translate(41.94,819.35) scale(1.2021,1)" x="0" y="0" font-family='"Liberation Sans", sans-serif' font-size="15.341" font-weight="bold" fill="#000">A.u.</text>
<text transform="translate(875.32,1448.3) scale(1.0530,1)" x="0" y="0" font-family='"Liberation Sans", sans-serif' font-size="17.241" font-weight="bold" fill="#000">min</text>
<rect x="93.9" y="1400.5" width="13.2" height="12.7" fill="#1010ee"/>
<text transform="translate(109.45,1409.72) scale(0.9557,1)" x="0" y="0" font-family='"Liberation Sans", sans-serif' font-size="18.732" font-weight="bold" fill="#1a1aee" stroke="#1a1aee" stroke-width="0.52" stroke-linejoin="round">360 nm</text>
<path d="M123.9,1369.9 C124.93,1368.2 125.28,1366.28 127,1364.8 C129.55,1362.6 135.18,1359.95 139.2,1359.7 C142.97,1359.46 146.32,1361.35 150.4,1362.8 C155.6,1364.65 162.87,1370.68 167.7,1370.4 C171.37,1370.19 174.02,1366.92 177.1,1364.9 C180.29,1362.8 184.29,1362.03 186.5,1358 C190.64,1350.42 188.41,1331.89 189.1,1316.9 C189.93,1298.81 190.28,1276.68 190.8,1257 C191.31,1237.89 191.69,1219.62 192.2,1200.5 C192.72,1180.8 193.41,1140.5 193.9,1140.5 C194.37,1140.5 194.67,1178.35 195.1,1195.3 C195.48,1209.98 194.24,1229.34 196.3,1236.4 C197.09,1239.11 198.56,1238.89 199.4,1241.6 C201.59,1248.66 201.01,1268.87 202,1282.7 C203.01,1296.83 203.97,1312.42 205.4,1325.5 C206.62,1336.63 206.16,1351.37 209.7,1356.3 C211.45,1358.74 213.86,1358.66 216.5,1359.7 C219.89,1361.03 224.5,1363.2 228.5,1363.2 C232.5,1363.2 235.99,1360.84 240.5,1359.7 C246.19,1358.26 253.46,1357.09 260,1355.5 C266.72,1353.87 276,1353.4 280.3,1350 C283.48,1347.49 284.22,1344.25 285.8,1339.9 C288.28,1333.08 289.83,1322.65 291.4,1312.2 C293.42,1298.8 294.81,1282.11 296,1266 C297.3,1248.41 297.96,1230.47 298.7,1210.7 C299.55,1187.88 300.07,1161.41 300.6,1136.9 C301.13,1112.58 301.39,1088.64 301.9,1064.2 C302.42,1039.34 303.45,1010.14 303.7,989 C303.88,973.58 303.55,960.5 303.7,949 C303.81,940.28 303.74,931.89 304.3,926 C304.66,922.29 304.63,918.45 305.8,917 C306.44,916.21 307.59,915.74 308.3,916 C309.21,916.34 309.9,918.19 310.4,920 C311.28,923.19 311,928.75 311.2,934 C311.45,940.72 311.32,948.7 311.6,957 C311.93,966.79 312.6,979.46 313.2,989 C313.69,996.74 314.35,1002.98 314.8,1010 C315.25,1017.05 315.51,1023.35 315.9,1031.2 C316.39,1040.99 316.96,1052.98 317.5,1064.2 C318.06,1075.89 318.58,1086.77 319.2,1100 C319.98,1116.46 320.9,1136.94 321.8,1155.4 C322.7,1173.84 323.11,1193.13 324.6,1210.7 C325.97,1226.79 327.79,1242.33 330.1,1256.8 C332.18,1269.83 334.49,1282.37 337.5,1293.7 C340.15,1303.68 342.56,1312.94 346.7,1321.4 C350.65,1329.47 354.86,1337.49 361.5,1343.5 C368.72,1350.03 379.7,1355.07 389.2,1358.3 C398.16,1361.35 407.56,1362.29 416.8,1362.9 C425.99,1363.51 436.47,1362.71 444.5,1362 C450.73,1361.45 456.23,1360.09 461,1359.6 C464.62,1359.22 467.42,1358.96 470.6,1359 C473.75,1359.04 476.91,1359.36 480,1359.8 C483.04,1360.23 485.18,1360.9 489,1361.6 C495.65,1362.82 505.82,1365.1 516.4,1366.2 C530.74,1367.69 547.49,1367.97 567.4,1368.3 C595.52,1368.77 646.6,1369.26 669.2,1367.5 C680.57,1366.61 686.98,1365.1 694.7,1363.7 C701.19,1362.53 706.15,1360.5 712.5,1359.9 C719.64,1359.22 727.87,1359.69 735.5,1360.4 C743.17,1361.12 748.82,1363.1 758.4,1364.2 C774.28,1366.02 800.16,1367.34 822.1,1368.3 C845.5,1369.33 870.5,1369.43 894.7,1370" fill="none" stroke="#8888ff" stroke-width="5" stroke-opacity="0.25" stroke-linejoin="round" stroke-linecap="round"/>
<path d="M123.9,1369.9 C124.93,1368.2 125.28,1366.28 127,1364.8 C129.55,1362.6 135.18,1359.95 139.2,1359.7 C142.97,1359.46 146.32,1361.35 150.4,1362.8 C155.6,1364.65 162.87,1370.68 167.7,1370.4 C171.37,1370.19 174.02,1366.92 177.1,1364.9 C180.29,1362.8 184.29,1362.03 186.5,1358 C190.64,1350.42 188.41,1331.89 189.1,1316.9 C189.93,1298.81 190.28,1276.68 190.8,1257 C191.31,1237.89 191.69,1219.62 192.2,1200.5 C192.72,1180.8 193.41,1140.5 193.9,1140.5 C194.37,1140.5 194.67,1178.35 195.1,1195.3 C195.48,1209.98 194.24,1229.34 196.3,1236.4 C197.09,1239.11 198.56,1238.89 199.4,1241.6 C201.59,1248.66 201.01,1268.87 202,1282.7 C203.01,1296.83 203.97,1312.42 205.4,1325.5 C206.62,1336.63 206.16,1351.37 209.7,1356.3 C211.45,1358.74 213.86,1358.66 216.5,1359.7 C219.89,1361.03 224.5,1363.2 228.5,1363.2 C232.5,1363.2 235.99,1360.84 240.5,1359.7 C246.19,1358.26 253.46,1357.09 260,1355.5 C266.72,1353.87 276,1353.4 280.3,1350 C283.48,1347.49 284.22,1344.25 285.8,1339.9 C288.28,1333.08 289.83,1322.65 291.4,1312.2 C293.42,1298.8 294.81,1282.11 296,1266 C297.3,1248.41 297.96,1230.47 298.7,1210.7 C299.55,1187.88 300.07,1161.41 300.6,1136.9 C301.13,1112.58 301.39,1088.64 301.9,1064.2 C302.42,1039.34 303.45,1010.14 303.7,989 C303.88,973.58 303.55,960.5 303.7,949 C303.81,940.28 303.74,931.89 304.3,926 C304.66,922.29 304.63,918.45 305.8,917 C306.44,916.21 307.59,915.74 308.3,916 C309.21,916.34 309.9,918.19 310.4,920 C311.28,923.19 311,928.75 311.2,934 C311.45,940.72 311.32,948.7 311.6,957 C311.93,966.79 312.6,979.46 313.2,989 C313.69,996.74 314.35,1002.98 314.8,1010 C315.25,1017.05 315.51,1023.35 315.9,1031.2 C316.39,1040.99 316.96,1052.98 317.5,1064.2 C318.06,1075.89 318.58,1086.77 319.2,1100 C319.98,1116.46 320.9,1136.94 321.8,1155.4 C322.7,1173.84 323.11,1193.13 324.6,1210.7 C325.97,1226.79 327.79,1242.33 330.1,1256.8 C332.18,1269.83 334.49,1282.37 337.5,1293.7 C340.15,1303.68 342.56,1312.94 346.7,1321.4 C350.65,1329.47 354.86,1337.49 361.5,1343.5 C368.72,1350.03 379.7,1355.07 389.2,1358.3 C398.16,1361.35 407.56,1362.29 416.8,1362.9 C425.99,1363.51 436.47,1362.71 444.5,1362 C450.73,1361.45 456.23,1360.09 461,1359.6 C464.62,1359.22 467.42,1358.96 470.6,1359 C473.75,1359.04 476.91,1359.36 480,1359.8 C483.04,1360.23 485.18,1360.9 489,1361.6 C495.65,1362.82 505.82,1365.1 516.4,1366.2 C530.74,1367.69 547.49,1367.97 567.4,1368.3 C595.52,1368.77 646.6,1369.26 669.2,1367.5 C680.57,1366.61 686.98,1365.1 694.7,1363.7 C701.19,1362.53 706.15,1360.5 712.5,1359.9 C719.64,1359.22 727.87,1359.69 735.5,1360.4 C743.17,1361.12 748.82,1363.1 758.4,1364.2 C774.28,1366.02 800.16,1367.34 822.1,1368.3 C845.5,1369.33 870.5,1369.43 894.7,1370" fill="none" stroke="#1212d8" stroke-width="3" stroke-linejoin="round" stroke-linecap="round"/>
<text transform="translate(304.89,881.6) scale(0.9266,1)" x="0" y="0" font-family='"Liberation Serif", serif' font-size="29.697" font-weight="normal" fill="#222">1</text>
<text transform="translate(715.66,1325) scale(0.9927,1)" x="0" y="0" font-family='"Liberation Serif", serif' font-size="29.283" font-weight="normal" fill="#222">2</text>
<text transform="translate(455.09,1508.44) scale(0.7667,1)" x="0" y="0" font-family='"Liberation Sans", sans-serif' font-size="36.042" font-weight="bold" fill="#000">C</text>
<line x1="1091.3" y1="800.9" x2="1091.3" y2="1423.7" stroke="#2a2a2a" stroke-width="2.4" />
<line x1="1090" y1="1422.4" x2="1935.6" y2="1422.4" stroke="#2a2a2a" stroke-width="2.6" />
<line x1="1082.4" y1="1412.18" x2="1091.3" y2="1412.18" stroke="#2a2a2a" stroke-width="2.3" />
<line x1="1075.8" y1="1396.4" x2="1091.3" y2="1396.4" stroke="#2a2a2a" stroke-width="2.3" />
<text transform="translate(1048.59,1403.38) scale(0.9400,1)" x="0" y="0" font-family='"Liberation Sans", sans-serif' font-size="20.300" font-weight="bold" fill="#000" stroke="#000" stroke-width="0.48" stroke-linejoin="round">0,0</text>
<line x1="1082.4" y1="1380.62" x2="1091.3" y2="1380.62" stroke="#2a2a2a" stroke-width="2.3" />
<line x1="1082.4" y1="1364.84" x2="1091.3" y2="1364.84" stroke="#2a2a2a" stroke-width="2.3" />
<line x1="1082.4" y1="1349.07" x2="1091.3" y2="1349.07" stroke="#2a2a2a" stroke-width="2.3" />
<line x1="1082.4" y1="1333.29" x2="1091.3" y2="1333.29" stroke="#2a2a2a" stroke-width="2.3" />
<line x1="1075.8" y1="1317.51" x2="1091.3" y2="1317.51" stroke="#2a2a2a" stroke-width="2.3" />
<text transform="translate(1046.35,1324.49) scale(0.9400,1)" x="0" y="0" font-family='"Liberation Sans", sans-serif' font-size="20.300" font-weight="bold" fill="#000" stroke="#000" stroke-width="0.48" stroke-linejoin="round">0,1</text>
<line x1="1082.4" y1="1301.73" x2="1091.3" y2="1301.73" stroke="#2a2a2a" stroke-width="2.3" />
<line x1="1082.4" y1="1285.95" x2="1091.3" y2="1285.95" stroke="#2a2a2a" stroke-width="2.3" />
<line x1="1082.4" y1="1270.18" x2="1091.3" y2="1270.18" stroke="#2a2a2a" stroke-width="2.3" />
<line x1="1082.4" y1="1254.4" x2="1091.3" y2="1254.4" stroke="#2a2a2a" stroke-width="2.3" />
<line x1="1075.8" y1="1238.62" x2="1091.3" y2="1238.62" stroke="#2a2a2a" stroke-width="2.3" />
<text transform="translate(1048.59,1245.6) scale(0.9400,1)" x="0" y="0" font-family='"Liberation Sans", sans-serif' font-size="20.300" font-weight="bold" fill="#000" stroke="#000" stroke-width="0.48" stroke-linejoin="round">0,2</text>
<line x1="1082.4" y1="1222.84" x2="1091.3" y2="1222.84" stroke="#2a2a2a" stroke-width="2.3" />
<line x1="1082.4" y1="1207.06" x2="1091.3" y2="1207.06" stroke="#2a2a2a" stroke-width="2.3" />
<line x1="1082.4" y1="1191.29" x2="1091.3" y2="1191.29" stroke="#2a2a2a" stroke-width="2.3" />
<line x1="1082.4" y1="1175.51" x2="1091.3" y2="1175.51" stroke="#2a2a2a" stroke-width="2.3" />
<line x1="1075.8" y1="1159.73" x2="1091.3" y2="1159.73" stroke="#2a2a2a" stroke-width="2.3" />
<text transform="translate(1048.5,1166.71) scale(0.9400,1)" x="0" y="0" font-family='"Liberation Sans", sans-serif' font-size="20.300" font-weight="bold" fill="#000" stroke="#000" stroke-width="0.48" stroke-linejoin="round">0,3</text>
<line x1="1082.4" y1="1143.95" x2="1091.3" y2="1143.95" stroke="#2a2a2a" stroke-width="2.3" />
<line x1="1082.4" y1="1128.17" x2="1091.3" y2="1128.17" stroke="#2a2a2a" stroke-width="2.3" />
<line x1="1082.4" y1="1112.4" x2="1091.3" y2="1112.4" stroke="#2a2a2a" stroke-width="2.3" />
<line x1="1082.4" y1="1096.62" x2="1091.3" y2="1096.62" stroke="#2a2a2a" stroke-width="2.3" />
<line x1="1075.8" y1="1080.84" x2="1091.3" y2="1080.84" stroke="#2a2a2a" stroke-width="2.3" />
<text transform="translate(1047.92,1087.82) scale(0.9400,1)" x="0" y="0" font-family='"Liberation Sans", sans-serif' font-size="20.300" font-weight="bold" fill="#000" stroke="#000" stroke-width="0.48" stroke-linejoin="round">0,4</text>
<line x1="1082.4" y1="1065.06" x2="1091.3" y2="1065.06" stroke="#2a2a2a" stroke-width="2.3" />
<line x1="1082.4" y1="1049.28" x2="1091.3" y2="1049.28" stroke="#2a2a2a" stroke-width="2.3" />
<line x1="1082.4" y1="1033.51" x2="1091.3" y2="1033.51" stroke="#2a2a2a" stroke-width="2.3" />
<line x1="1082.4" y1="1017.73" x2="1091.3" y2="1017.73" stroke="#2a2a2a" stroke-width="2.3" />
<line x1="1075.8" y1="1001.95" x2="1091.3" y2="1001.95" stroke="#2a2a2a" stroke-width="2.3" />
<text transform="translate(1048.35,1008.93) scale(0.9400,1)" x="0" y="0" font-family='"Liberation Sans", sans-serif' font-size="20.300" font-weight="bold" fill="#000" stroke="#000" stroke-width="0.48" stroke-linejoin="round">0,5</text>
<line x1="1082.4" y1="986.17" x2="1091.3" y2="986.17" stroke="#2a2a2a" stroke-width="2.3" />
<line x1="1082.4" y1="970.39" x2="1091.3" y2="970.39" stroke="#2a2a2a" stroke-width="2.3" />
<line x1="1082.4" y1="954.62" x2="1091.3" y2="954.62" stroke="#2a2a2a" stroke-width="2.3" />
<line x1="1082.4" y1="938.84" x2="1091.3" y2="938.84" stroke="#2a2a2a" stroke-width="2.3" />
<line x1="1075.8" y1="923.06" x2="1091.3" y2="923.06" stroke="#2a2a2a" stroke-width="2.3" />
<text transform="translate(1048.5,930.04) scale(0.9400,1)" x="0" y="0" font-family='"Liberation Sans", sans-serif' font-size="20.300" font-weight="bold" fill="#000" stroke="#000" stroke-width="0.48" stroke-linejoin="round">0,6</text>
<line x1="1082.4" y1="907.28" x2="1091.3" y2="907.28" stroke="#2a2a2a" stroke-width="2.3" />
<line x1="1082.4" y1="891.5" x2="1091.3" y2="891.5" stroke="#2a2a2a" stroke-width="2.3" />
<line x1="1082.4" y1="875.73" x2="1091.3" y2="875.73" stroke="#2a2a2a" stroke-width="2.3" />
<line x1="1082.4" y1="859.95" x2="1091.3" y2="859.95" stroke="#2a2a2a" stroke-width="2.3" />
<line x1="1075.8" y1="844.17" x2="1091.3" y2="844.17" stroke="#2a2a2a" stroke-width="2.3" />
<text transform="translate(1048.69,851.15) scale(0.9400,1)" x="0" y="0" font-family='"Liberation Sans", sans-serif' font-size="20.300" font-weight="bold" fill="#000" stroke="#000" stroke-width="0.48" stroke-linejoin="round">0,7</text>
<line x1="1082.4" y1="828.39" x2="1091.3" y2="828.39" stroke="#2a2a2a" stroke-width="2.3" />
<line x1="1082.4" y1="812.61" x2="1091.3" y2="812.61" stroke="#2a2a2a" stroke-width="2.3" />
<line x1="1097.56" y1="1422.4" x2="1097.56" y2="1429.7" stroke="#2a2a2a" stroke-width="2.3" />
<line x1="1129.3" y1="1422.4" x2="1129.3" y2="1436.7" stroke="#2a2a2a" stroke-width="2.3" />
<text transform="translate(1124.5,1454.56) scale(0.9400,1)" x="0" y="0" font-family='"Liberation Sans", sans-serif' font-size="20.300" font-weight="bold" fill="#000" stroke="#000" stroke-width="0.48" stroke-linejoin="round">0</text>
<line x1="1161.04" y1="1422.4" x2="1161.04" y2="1429.7" stroke="#2a2a2a" stroke-width="2.3" />
<line x1="1192.77" y1="1422.4" x2="1192.77" y2="1429.7" stroke="#2a2a2a" stroke-width="2.3" />
<line x1="1224.51" y1="1422.4" x2="1224.51" y2="1429.7" stroke="#2a2a2a" stroke-width="2.3" />
<line x1="1256.24" y1="1422.4" x2="1256.24" y2="1429.7" stroke="#2a2a2a" stroke-width="2.3" />
<line x1="1287.98" y1="1422.4" x2="1287.98" y2="1436.7" stroke="#2a2a2a" stroke-width="2.3" />
<text transform="translate(1283.14,1454.56) scale(0.9400,1)" x="0" y="0" font-family='"Liberation Sans", sans-serif' font-size="20.300" font-weight="bold" fill="#000" stroke="#000" stroke-width="0.48" stroke-linejoin="round">5</text>
<line x1="1319.72" y1="1422.4" x2="1319.72" y2="1429.7" stroke="#2a2a2a" stroke-width="2.3" />
<line x1="1351.45" y1="1422.4" x2="1351.45" y2="1429.7" stroke="#2a2a2a" stroke-width="2.3" />
<line x1="1383.19" y1="1422.4" x2="1383.19" y2="1429.7" stroke="#2a2a2a" stroke-width="2.3" />
<line x1="1414.92" y1="1422.4" x2="1414.92" y2="1429.7" stroke="#2a2a2a" stroke-width="2.3" />
<line x1="1446.66" y1="1422.4" x2="1446.66" y2="1436.7" stroke="#2a2a2a" stroke-width="2.3" />
<text transform="translate(1436.33,1454.56) scale(0.9400,1)" x="0" y="0" font-family='"Liberation Sans", sans-serif' font-size="20.300" font-weight="bold" fill="#000" stroke="#000" stroke-width="0.48" stroke-linejoin="round">10</text>
<line x1="1478.4" y1="1422.4" x2="1478.4" y2="1429.7" stroke="#2a2a2a" stroke-width="2.3" />
<line x1="1510.13" y1="1422.4" x2="1510.13" y2="1429.7" stroke="#2a2a2a" stroke-width="2.3" />
<line x1="1541.87" y1="1422.4" x2="1541.87" y2="1429.7" stroke="#2a2a2a" stroke-width="2.3" />
<line x1="1573.6" y1="1422.4" x2="1573.6" y2="1429.7" stroke="#2a2a2a" stroke-width="2.3" />
<line x1="1605.34" y1="1422.4" x2="1605.34" y2="1436.7" stroke="#2a2a2a" stroke-width="2.3" />
<text transform="translate(1594.89,1454.56) scale(0.9400,1)" x="0" y="0" font-family='"Liberation Sans", sans-serif' font-size="20.300" font-weight="bold" fill="#000" stroke="#000" stroke-width="0.48" stroke-linejoin="round">15</text>
<line x1="1637.08" y1="1422.4" x2="1637.08" y2="1429.7" stroke="#2a2a2a" stroke-width="2.3" />
<line x1="1668.81" y1="1422.4" x2="1668.81" y2="1429.7" stroke="#2a2a2a" stroke-width="2.3" />
<line x1="1700.55" y1="1422.4" x2="1700.55" y2="1429.7" stroke="#2a2a2a" stroke-width="2.3" />
<line x1="1732.28" y1="1422.4" x2="1732.28" y2="1429.7" stroke="#2a2a2a" stroke-width="2.3" />
<line x1="1764.02" y1="1422.4" x2="1764.02" y2="1436.7" stroke="#2a2a2a" stroke-width="2.3" />
<text transform="translate(1753.98,1454.56) scale(0.9400,1)" x="0" y="0" font-family='"Liberation Sans", sans-serif' font-size="20.300" font-weight="bold" fill="#000" stroke="#000" stroke-width="0.48" stroke-linejoin="round">20</text>
<line x1="1795.76" y1="1422.4" x2="1795.76" y2="1429.7" stroke="#2a2a2a" stroke-width="2.3" />
<line x1="1827.49" y1="1422.4" x2="1827.49" y2="1429.7" stroke="#2a2a2a" stroke-width="2.3" />
<line x1="1859.23" y1="1422.4" x2="1859.23" y2="1429.7" stroke="#2a2a2a" stroke-width="2.3" />
<line x1="1890.96" y1="1422.4" x2="1890.96" y2="1429.7" stroke="#2a2a2a" stroke-width="2.3" />
<line x1="1922.7" y1="1422.4" x2="1922.7" y2="1436.7" stroke="#2a2a2a" stroke-width="2.3" />
<text transform="translate(1912.54,1454.56) scale(0.9400,1)" x="0" y="0" font-family='"Liberation Sans", sans-serif' font-size="20.300" font-weight="bold" fill="#000" stroke="#000" stroke-width="0.48" stroke-linejoin="round">25</text>
<text transform="translate(1043.25,814.54) scale(1.1038,1)" x="0" y="0" font-family='"Liberation Sans", sans-serif' font-size="16.201" font-weight="bold" fill="#000">A.u.</text>
<text transform="translate(1874.26,1453.3) scale(0.9940,1)" x="0" y="0" font-family='"Liberation Sans", sans-serif' font-size="17.655" font-weight="bold" fill="#000">min</text>
<rect x="1096.7" y="1405" width="12.8" height="11.7" fill="#ee1010"/>
<text transform="translate(1113.85,1412.22) scale(0.9766,1)" x="0" y="0" font-family='"Liberation Sans", sans-serif' font-size="18.028" font-weight="bold" fill="#ee1515" stroke="#ee1515" stroke-width="0.51" stroke-linejoin="round">360 nm</text>
<path d="M1138,1396.9 C1142.77,1396.9 1147.47,1396.58 1152.3,1396.9 C1157.3,1397.23 1163.3,1399.72 1167.5,1398.9 C1170.81,1398.26 1173.53,1396.3 1175.8,1394.2 C1178.06,1392.1 1178.79,1388.07 1181.1,1386.3 C1183.26,1384.64 1187.05,1385.94 1189,1383.6 C1192.48,1379.42 1191.5,1365.57 1192.9,1357.3 C1194.16,1349.87 1195.86,1336.14 1196.9,1336.2 C1198.27,1336.28 1197.03,1366.51 1199.5,1373.1 C1200.55,1375.89 1202.15,1376.05 1203.5,1378.4 C1205.66,1382.17 1206.73,1392.75 1210.1,1394.2 C1212.83,1395.37 1217.18,1389.86 1220.6,1390.2 C1224.19,1390.56 1227.54,1396.63 1231.1,1396.8 C1234.58,1396.97 1238.47,1394.24 1241.7,1391.5 C1245.66,1388.13 1247.89,1380.05 1252.2,1377 C1255.98,1374.33 1261.24,1373.19 1265.4,1373.1 C1269.09,1373.02 1273.31,1377.02 1275.9,1375.7 C1278.86,1374.19 1279.88,1368.58 1281.2,1362.6 C1283.75,1351.05 1282.99,1329.25 1283.8,1309.9 C1284.79,1286.2 1285.7,1257.39 1286.5,1230.8 C1287.31,1203.76 1287.87,1168.08 1288.6,1149 C1288.99,1138.73 1289.35,1133.2 1289.8,1125.3 C1290.25,1117.4 1290.69,1108.26 1291.3,1101.6 C1291.74,1096.74 1291.89,1092.09 1292.8,1089 C1293.37,1087.06 1294.16,1084.62 1295,1084.5 C1295.69,1084.4 1296.68,1085.68 1297.3,1087 C1298.58,1089.75 1298.57,1096.14 1299.2,1101.6 C1300,1108.54 1300.8,1117.4 1301.6,1125.3 C1302.4,1133.2 1303.25,1140.57 1304,1149 C1304.86,1158.64 1305.57,1169.62 1306.4,1180 C1307.24,1190.48 1307.95,1201.08 1309,1211.6 C1310.05,1222.14 1311.41,1233.15 1312.7,1243.2 C1313.88,1252.4 1315.18,1262.83 1316.4,1269.6 C1317.17,1273.88 1317.96,1276.4 1318.7,1280 C1319.49,1283.85 1320.19,1287.96 1321,1292 C1321.82,1296.13 1322.47,1299.85 1323.6,1304.5 C1325.06,1310.47 1327.02,1318.09 1329.3,1324.8 C1331.63,1331.66 1334.45,1339.4 1337.5,1345.2 C1339.99,1349.93 1342.41,1353.65 1345.6,1357.4 C1348.88,1361.27 1352.64,1364.84 1357,1368 C1361.77,1371.45 1368.18,1374.58 1373.3,1377 C1377.62,1379.04 1380.89,1380.9 1385.6,1381.9 C1391.45,1383.14 1400.07,1382.39 1406,1382.7 C1410.59,1382.94 1413.86,1382.92 1418.2,1383.5 C1423.26,1384.18 1428.46,1385.61 1434.5,1386.8 C1442.05,1388.29 1451.26,1390.43 1460,1391.7 C1469.13,1393.03 1477.37,1393.73 1488.2,1394.5 C1502.85,1395.54 1521.71,1396.02 1540,1396.7 C1560.58,1397.47 1582.91,1399.19 1605.6,1398.8 C1630.11,1398.38 1656.52,1394.05 1682,1393.7 C1707.46,1393.35 1731.95,1395.69 1758.4,1396.7 C1786.96,1397.79 1821.73,1399.52 1847.5,1400 C1867.24,1400.37 1882.37,1400 1899.8,1400" fill="none" stroke="#ff7777" stroke-width="5" stroke-opacity="0.3" stroke-linejoin="round" stroke-linecap="round"/>
<path d="M1138,1396.9 C1142.77,1396.9 1147.47,1396.58 1152.3,1396.9 C1157.3,1397.23 1163.3,1399.72 1167.5,1398.9 C1170.81,1398.26 1173.53,1396.3 1175.8,1394.2 C1178.06,1392.1 1178.79,1388.07 1181.1,1386.3 C1183.26,1384.64 1187.05,1385.94 1189,1383.6 C1192.48,1379.42 1191.5,1365.57 1192.9,1357.3 C1194.16,1349.87 1195.86,1336.14 1196.9,1336.2 C1198.27,1336.28 1197.03,1366.51 1199.5,1373.1 C1200.55,1375.89 1202.15,1376.05 1203.5,1378.4 C1205.66,1382.17 1206.73,1392.75 1210.1,1394.2 C1212.83,1395.37 1217.18,1389.86 1220.6,1390.2 C1224.19,1390.56 1227.54,1396.63 1231.1,1396.8 C1234.58,1396.97 1238.47,1394.24 1241.7,1391.5 C1245.66,1388.13 1247.89,1380.05 1252.2,1377 C1255.98,1374.33 1261.24,1373.19 1265.4,1373.1 C1269.09,1373.02 1273.31,1377.02 1275.9,1375.7 C1278.86,1374.19 1279.88,1368.58 1281.2,1362.6 C1283.75,1351.05 1282.99,1329.25 1283.8,1309.9 C1284.79,1286.2 1285.7,1257.39 1286.5,1230.8 C1287.31,1203.76 1287.87,1168.08 1288.6,1149 C1288.99,1138.73 1289.35,1133.2 1289.8,1125.3 C1290.25,1117.4 1290.69,1108.26 1291.3,1101.6 C1291.74,1096.74 1291.89,1092.09 1292.8,1089 C1293.37,1087.06 1294.16,1084.62 1295,1084.5 C1295.69,1084.4 1296.68,1085.68 1297.3,1087 C1298.58,1089.75 1298.57,1096.14 1299.2,1101.6 C1300,1108.54 1300.8,1117.4 1301.6,1125.3 C1302.4,1133.2 1303.25,1140.57 1304,1149 C1304.86,1158.64 1305.57,1169.62 1306.4,1180 C1307.24,1190.48 1307.95,1201.08 1309,1211.6 C1310.05,1222.14 1311.41,1233.15 1312.7,1243.2 C1313.88,1252.4 1315.18,1262.83 1316.4,1269.6 C1317.17,1273.88 1317.96,1276.4 1318.7,1280 C1319.49,1283.85 1320.19,1287.96 1321,1292 C1321.82,1296.13 1322.47,1299.85 1323.6,1304.5 C1325.06,1310.47 1327.02,1318.09 1329.3,1324.8 C1331.63,1331.66 1334.45,1339.4 1337.5,1345.2 C1339.99,1349.93 1342.41,1353.65 1345.6,1357.4 C1348.88,1361.27 1352.64,1364.84 1357,1368 C1361.77,1371.45 1368.18,1374.58 1373.3,1377 C1377.62,1379.04 1380.89,1380.9 1385.6,1381.9 C1391.45,1383.14 1400.07,1382.39 1406,1382.7 C1410.59,1382.94 1413.86,1382.92 1418.2,1383.5 C1423.26,1384.18 1428.46,1385.61 1434.5,1386.8 C1442.05,1388.29 1451.26,1390.43 1460,1391.7 C1469.13,1393.03 1477.37,1393.73 1488.2,1394.5 C1502.85,1395.54 1521.71,1396.02 1540,1396.7 C1560.58,1397.47 1582.91,1399.19 1605.6,1398.8 C1630.11,1398.38 1656.52,1394.05 1682,1393.7 C1707.46,1393.35 1731.95,1395.69 1758.4,1396.7 C1786.96,1397.79 1821.73,1399.52 1847.5,1400 C1867.24,1400.37 1882.37,1400 1899.8,1400" fill="none" stroke="#e41515" stroke-width="3" stroke-linejoin="round" stroke-linecap="round"/>
<text transform="translate(1291.89,1064.3) scale(0.8024,1)" x="0" y="0" font-family='"Liberation Serif", serif' font-size="24.394" font-weight="normal" fill="#222">1</text>
<text transform="translate(1680.09,1369) scale(1.1079,1)" x="0" y="0" font-family='"Liberation Serif", serif' font-size="23.547" font-weight="normal" fill="#222">2</text>
<text transform="translate(1453.25,1508.4) scale(0.9122,1)" x="0" y="0" font-family='"Liberation Sans", sans-serif' font-size="36.218" font-weight="bold" fill="#000">D</text>

</svg>
</body></html>
